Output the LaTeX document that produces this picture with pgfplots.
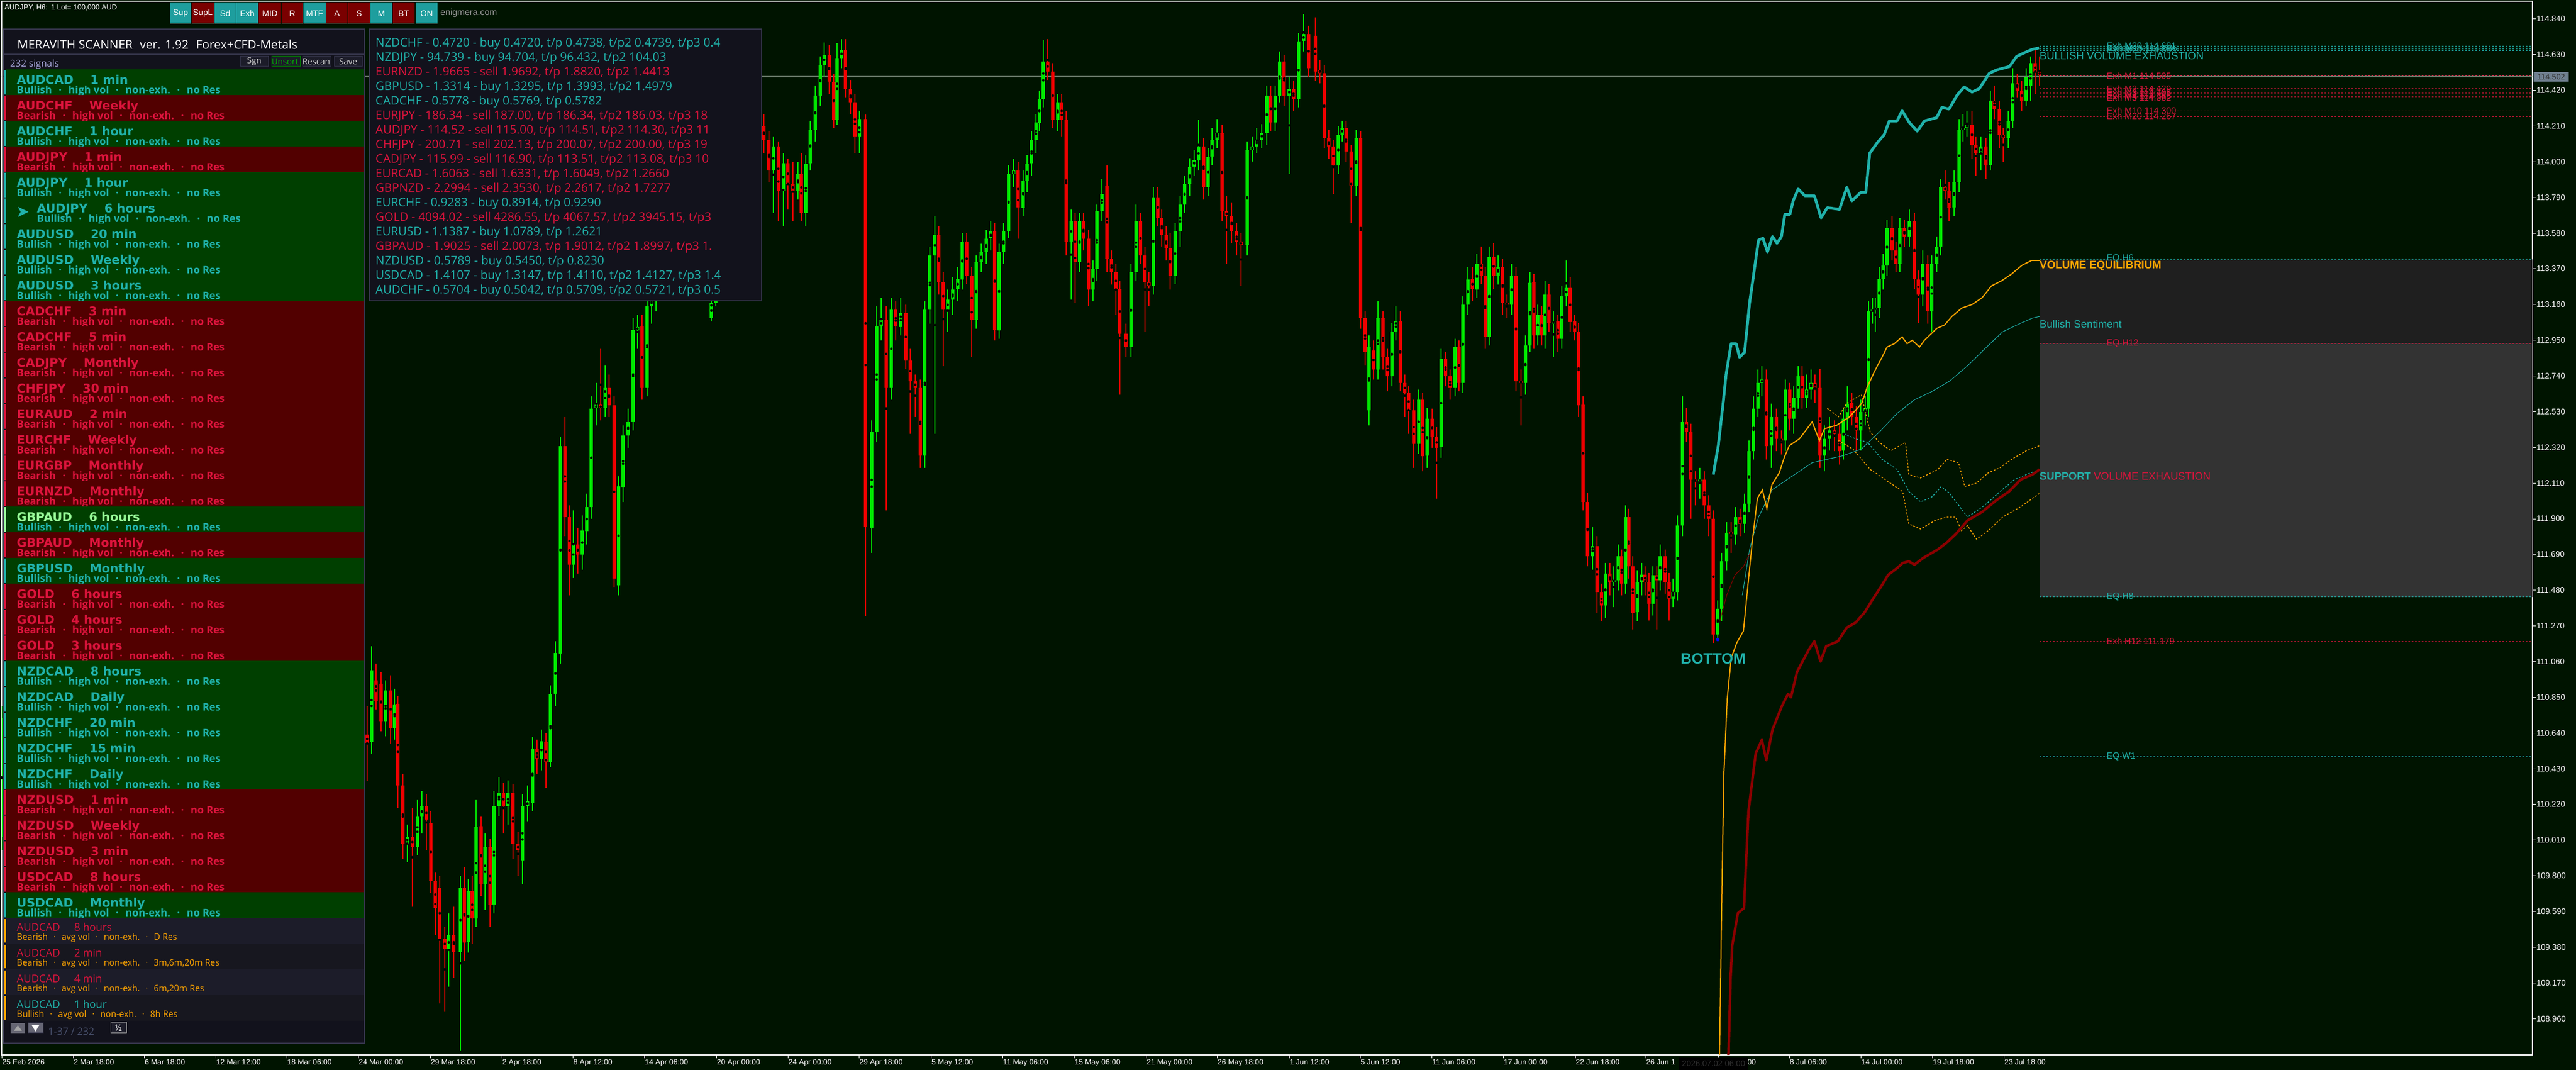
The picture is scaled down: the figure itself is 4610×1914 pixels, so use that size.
\documentclass[border=0pt]{standalone}
\usepackage{fontspec}
\setmainfont{Liberation Sans}
\newfontfamily\dejavu{DejaVu Sans}
\newfontfamily\osans{Open Sans}
\usepackage{pgfplots}
\usepackage{pgfplotstable}
\pgfplotsset{compat=1.18}
\definecolor{bg}{HTML}{001400}
\definecolor{cup}{HTML}{00E800}
\definecolor{cdn}{HTML}{F00000}
\definecolor{tealc}{HTML}{20B2AA}
\definecolor{crim}{HTML}{DC143C}
\definecolor{orng}{HTML}{FFA500}
\definecolor{dred}{HTML}{8B0000}
\definecolor{rectA}{HTML}{1F1F1F}
\definecolor{rectB}{HTML}{333333}
\definecolor{panel}{HTML}{12121C}
\definecolor{pborder}{HTML}{34344A}
\definecolor{rowg}{HTML}{003F00}
\definecolor{rowr}{HTML}{520000}
\definecolor{rowy}{HTML}{1C1C29}
\definecolor{rowz}{HTML}{17171F}
\definecolor{lgreen}{HTML}{98FB98}
\definecolor{btnT}{HTML}{1E9E9E}
\definecolor{btnR}{HTML}{7A0000}
\definecolor{pricebox}{HTML}{708090}
\definecolor{pline}{HTML}{8C9C8C}
\definecolor{navtxt}{HTML}{48506C}
\definecolor{boxtxt}{HTML}{303030}

\newcommand\rtitle{\dejavu\bfseries\fontsize{21.5}{24}\selectfont}
\newcommand\rsub{\osans\bfseries\fontsize{18.5}{20}\selectfont}
\newcommand\ytitle{\osans\fontsize{19}{21}\selectfont}
\newcommand\ysub{\osans\fontsize{15.7}{18}\selectfont}
\newcommand\ifont{\osans\fontsize{21.3}{24}\selectfont}
\newcommand\lfont{\fontsize{16}{18}\selectfont}
\newcommand\biglab{\fontsize{19}{21}\selectfont}
\newcommand\bfont{\fontsize{15}{17}\selectfont}
\newcommand\sepb{\hspace{12pt}·\hspace{12pt}}
\newcommand\seps{\hspace{10.4pt}·\hspace{10.4pt}}

% top, bg, bar, titlecol, subcol, sym, tf, sub
\newcommand\srow[8]{%
  \fill[#2] (11,#1) rectangle (651,{#1+46});
  \fill[#3] (7,{#1+1}) rectangle (11,{#1+45});
  \node[anchor=base west,inner sep=0pt,text=#4,font=\rtitle] at (30,{#1+26.7}) {#6\hspace{30pt}#7};
  \node[anchor=base west,inner sep=0pt,text=#5,font=\rsub] at (30,{#1+43.3}) {#8};
}
\newcommand\gRow[3]{\srow{#1}{rowg}{tealc}{tealc}{tealc}{#2}{#3}{Bullish\sepb high vol\sepb non-exh.\sepb no Res}}
\newcommand\rRow[3]{\srow{#1}{rowr}{crim}{crim}{crim}{#2}{#3}{Bearish\sepb high vol\sepb non-exh.\sepb no Res}}
% top, bg, titlecol, sym, tf, sub
\newcommand\yRow[6]{%
  \fill[#2] (11,#1) rectangle (651,{#1+46});
  \fill[orng] (7,{#1+2}) rectangle (11,{#1+44});
  \node[anchor=base west,inner sep=0pt,text=#3,font=\ytitle] at (30,{#1+24}) {#4\hspace{25pt}#5};
  \node[anchor=base west,inner sep=0pt,text=orng,font=\ysub] at (30,{#1+39.5}) {#6};
}
\newcommand\iline[3]{\node[anchor=base west,inner sep=0pt,text=#2,font=\ifont] at (672,{84+26*#1}) {#3};}
\newcommand\tbtn[4]{%
  \fill[#1] (#2,4) rectangle (#3,42);
  \draw[#1!60!white,line width=1.2pt] (#2,41.4) -- (#3,41.4);
  \node[text=white,font=\bfont] at ({(#2+#3)/2},24) {#4};
}

\pgfplotstableread{
x o h l c
3 110.03 110.80 109.95 110.73
657 110.63 110.80 110.36 110.58
665 110.59 111.15 110.52 111.01
673 110.95 111.05 110.78 110.83
682 110.93 111.00 110.65 110.71
690 110.71 110.95 110.62 110.89
699 110.89 110.98 110.58 110.67
706 110.67 110.90 110.60 110.81
712 110.81 110.86 110.20 110.33
721 110.33 110.40 109.90 109.99
729 109.99 110.10 109.88 110.03
738 110.03 110.20 109.62 109.97
747 109.97 110.25 109.92 110.15
755 110.15 110.30 110.05 110.21
763 110.21 110.28 109.95 110.13
771 110.11 110.18 109.70 109.77
779 109.77 109.82 109.45 109.61
787 109.73 109.80 109.05 109.43
796 109.43 109.50 109.00 109.37
803 109.37 109.58 109.15 109.45
812 109.45 109.62 109.20 109.35
824 109.35 109.80 108.77 109.73
831 109.73 109.85 109.30 109.41
838 109.41 109.78 109.35 109.71
845 109.71 109.80 109.40 109.55
852 109.55 110.25 109.50 110.09
861 110.09 110.15 109.68 109.75
868 109.75 110.05 109.60 109.97
877 109.97 110.02 109.50 109.63
884 109.63 110.30 109.58 110.21
893 110.21 110.38 110.15 110.29
901 110.29 110.35 110.05 110.21
909 110.21 110.36 110.10 110.29
918 110.29 110.34 109.90 109.99
927 109.99 110.06 109.80 109.95
935 109.89 110.28 109.75 110.21
944 110.21 110.33 110.12 110.24
953 110.23 110.62 110.18 110.55
961 110.55 110.60 110.40 110.49
969 110.49 110.66 110.42 110.59
977 110.59 110.64 110.32 110.47
985 110.47 110.92 110.44 110.87
994 110.87 111.18 110.80 111.11
1003 111.11 112.38 111.05 112.33
1011 112.33 112.50 111.80 111.91
1019 111.91 111.98 111.45 111.63
1026 111.63 111.95 111.55 111.75
1034 111.75 111.85 111.58 111.69
1042 111.69 111.92 111.60 111.83
1050 111.83 112.05 111.75 111.97
1058 111.97 112.62 111.90 112.55
1067 112.55 112.70 112.45 112.57
1075 112.57 112.90 112.48 112.55
1083 112.55 112.80 112.50 112.67
1090 112.67 112.75 112.50 112.57
1099 112.57 112.62 111.50 111.55
1107 111.51 112.15 111.45 112.09
1115 112.09 112.45 112.00 112.39
1124 112.39 112.55 112.32 112.47
1133 112.47 113.08 112.42 113.01
1141 113.01 113.10 112.90 113.03
1149 113.03 113.10 112.60 112.67
1158 112.67 113.22 112.62 113.15
1166 113.15 113.30 113.05 113.19
1174 113.19 113.45 113.12 113.40
1183 113.40 113.68 113.35 113.62
1191 113.62 113.70 113.45 113.50
1200 113.50 113.85 113.45 113.80
1208 113.80 114.00 113.75 113.95
1216 113.95 114.02 113.65 113.70
1225 113.70 113.75 113.40 113.45
1233 113.45 113.50 113.25 113.30
1241 113.30 113.48 113.25 113.42
1249 113.42 113.46 113.22 113.35
1257 113.35 113.40 113.20 113.25
1265 113.25 113.30 113.19 113.21
1273 113.08 113.25 113.06 113.17
1281 113.17 113.55 113.15 113.50
1290 113.50 113.80 113.45 113.75
1298 113.75 114.00 113.70 113.95
1306 113.95 114.02 113.80 113.85
1314 113.85 114.10 113.80 114.05
1323 114.05 114.25 114.00 114.20
1331 114.20 114.25 114.05 114.10
1339 114.10 114.30 114.05 114.25
1347 114.25 114.36 114.20 114.30
1356 114.30 114.35 114.15 114.22
1367 114.21 114.28 114.05 114.13
1376 114.13 114.18 113.88 113.95
1384 113.95 114.15 113.70 114.09
1393 114.09 114.12 113.65 113.83
1402 113.83 114.05 113.62 113.99
1410 113.99 114.02 113.72 113.87
1419 113.87 114.00 113.65 113.83
1428 113.83 114.00 113.78 113.93
1434 113.93 114.05 113.65 113.70
1442 113.70 114.04 113.62 113.99
1450 113.99 114.24 113.95 114.19
1459 114.19 114.45 114.12 114.39
1468 114.39 114.62 114.33 114.57
1475 114.57 114.70 114.50 114.63
1484 114.63 114.69 114.40 114.47
1492 114.47 114.52 114.20 114.25
1498 114.25 114.70 114.22 114.61
1506 114.61 114.72 114.55 114.66
1513 114.66 114.72 114.38 114.43
1522 114.43 114.48 114.28 114.35
1530 114.35 114.40 114.05 114.15
1538 114.15 114.30 114.05 114.25
1549 114.25 114.28 111.33 111.85
1560 111.85 112.48 111.70 112.41
1569 112.41 113.15 112.35 113.03
1577 113.03 113.20 112.95 113.07
1586 113.07 113.15 111.95 112.67
1595 112.67 113.20 112.60 113.13
1603 113.13 113.18 112.95 113.03
1612 113.03 113.20 112.98 113.11
1621 113.11 113.16 112.78 112.83
1629 112.83 112.90 112.40 112.71
1638 112.71 112.75 112.50 112.67
1647 112.67 112.72 112.20 112.27
1655 112.27 113.18 112.20 113.13
1664 113.13 113.50 113.05 113.45
1673 113.45 113.68 112.40 113.57
1680 113.57 113.62 113.22 113.29
1688 113.29 113.35 112.80 113.13
1696 113.13 113.25 113.00 113.19
1705 113.19 113.32 113.10 113.25
1714 113.25 113.38 113.18 113.31
1722 113.31 113.58 113.25 113.53
1730 113.53 113.58 113.28 113.33
1739 113.33 113.38 112.85 113.07
1747 113.07 113.45 113.02 113.41
1756 113.41 113.52 113.35 113.47
1765 113.47 113.60 113.40 113.55
1773 113.55 113.65 113.48 113.59
1780 113.59 113.64 112.95 113.01
1788 113.01 113.52 112.96 113.47
1796 113.47 113.64 113.40 113.59
1805 113.59 113.98 113.55 113.93
1814 113.93 114.02 113.85 113.95
1822 113.95 114.00 113.55 113.73
1831 113.73 113.95 113.68 113.89
1838 113.89 114.04 113.82 113.99
1846 113.99 114.18 113.92 114.13
1854 114.13 114.28 114.05 114.23
1860 114.23 114.42 114.18 114.37
1867 114.37 114.72 114.32 114.59
1875 114.59 114.72 114.48 114.53
1884 114.53 114.58 114.20 114.25
1893 114.25 114.40 114.18 114.35
1900 114.35 114.40 114.15 114.25
1908 114.25 114.30 113.45 113.53
1917 113.53 113.72 113.19 113.65
1924 113.65 113.70 113.17 113.41
1932 113.41 113.70 113.35 113.65
1939 113.65 113.70 113.48 113.55
1948 113.55 113.60 113.15 113.25
1956 113.25 113.42 113.18 113.37
1963 113.37 113.75 113.30 113.71
1972 113.71 113.90 113.65 113.81
1981 113.86 113.98 113.35 113.43
1989 113.43 113.48 113.28 113.35
1997 113.35 113.40 113.10 113.25
2004 113.25 113.30 112.63 112.99
2015 112.99 113.05 112.85 112.91
2024 112.91 113.40 112.85 113.35
2033 113.35 113.75 113.30 113.65
2041 113.65 113.70 113.40 113.45
2049 113.45 113.50 113.00 113.29
2056 113.29 113.35 113.15 113.27
2064 113.27 113.85 113.22 113.79
2072 113.79 113.85 113.62 113.67
2079 113.67 113.72 113.50 113.57
2087 113.57 113.62 113.42 113.49
2094 113.49 113.58 113.25 113.33
2103 113.33 113.64 113.28 113.59
2112 113.59 113.80 113.50 113.75
2120 113.75 113.92 113.70 113.87
2129 113.87 114.02 113.80 113.97
2137 113.97 114.07 113.92 114.01
2145 114.01 114.25 113.95 114.09
2154 114.09 114.14 113.78 113.85
2162 113.85 114.08 113.80 114.03
2169 114.03 114.20 113.98 114.13
2178 114.13 114.25 114.08 114.17
2187 114.17 114.22 113.65 113.71
2195 113.71 113.80 113.40 113.68
2204 113.68 113.76 113.52 113.59
2213 113.59 113.64 113.45 113.53
2221 113.53 113.58 113.27 113.51
2232 113.51 114.12 113.45 114.07
2241 114.07 114.15 114.00 114.09
2249 114.09 114.20 114.05 114.13
2258 114.13 114.22 114.08 114.17
2267 114.17 114.45 114.10 114.39
2274 114.39 114.45 114.18 114.23
2282 114.23 114.45 114.18 114.39
2290 114.39 114.65 114.35 114.59
2298 114.59 114.63 114.33 114.39
2307 114.39 114.50 113.93 114.43
2315 114.43 114.48 114.30 114.37
2324 114.37 114.76 114.32 114.71
2333 114.71 114.87 114.65 114.75
2342 114.75 114.80 114.50 114.55
2354 114.74 114.85 114.48 114.53
2362 114.54 114.60 114.46 114.52
2370 114.52 114.57 114.08 114.14
2378 114.14 114.19 114.02 114.09
2386 114.09 114.13 113.81 113.98
2395 113.98 114.21 113.93 114.16
2402 114.16 114.24 114.12 114.20
2409 114.20 114.24 114.00 114.06
2418 114.06 114.10 113.64 113.86
2427 113.86 114.19 113.80 114.14
2435 114.14 114.18 113.02 113.08
2443 113.08 113.12 112.80 112.88
2450 112.54 112.98 112.45 112.91
2458 112.89 112.95 112.72 112.78
2466 112.78 113.18 112.72 113.08
2475 113.08 113.12 112.78 112.85
2483 112.85 112.90 112.65 112.74
2491 112.74 113.05 112.68 113.00
2498 113.00 113.15 112.95 113.06
2506 113.06 113.12 112.65 112.70
2514 112.70 112.75 112.50 112.64
2521 112.64 112.68 112.40 112.54
2530 112.54 112.60 112.20 112.34
2539 112.34 112.66 112.28 112.60
2546 112.60 112.64 112.18 112.27
2554 112.27 112.55 112.20 112.49
2563 112.49 112.55 112.32 112.38
2571 112.38 112.44 112.02 112.32
2579 112.32 112.90 112.26 112.84
2587 112.84 112.88 112.68 112.74
2595 112.74 112.78 112.60 112.67
2604 112.67 112.96 112.62 112.91
2611 112.91 112.95 112.65 112.70
2618 112.70 113.21 112.64 113.16
2627 113.16 113.38 113.10 113.31
2635 113.31 113.38 113.18 113.25
2643 113.25 113.46 113.20 113.40
2651 113.40 113.50 113.28 113.33
2658 113.33 113.38 112.90 112.97
2665 112.97 113.50 112.92 113.44
2673 113.44 113.52 113.25 113.33
2681 113.33 113.45 113.28 113.38
2689 113.38 113.43 113.10 113.17
2697 113.17 113.22 113.08 113.16
2705 113.16 113.40 113.10 113.33
2713 113.33 113.38 112.65 112.71
2722 112.71 112.78 112.45 112.70
2730 112.70 112.98 112.63 112.92
2738 112.92 113.35 112.88 113.29
2745 113.29 113.34 112.90 112.98
2752 112.98 113.16 112.92 113.10
2759 113.10 113.15 112.92 112.98
2765 112.98 113.30 112.90 113.22
2772 113.22 113.28 113.00 113.05
2780 113.05 113.12 112.85 113.06
2788 113.06 113.10 112.88 112.96
2795 112.96 113.27 112.90 113.21
2803 113.21 113.42 113.15 113.26
2810 113.26 113.32 113.00 113.06
2818 113.06 113.10 112.95 113.00
2825 113.00 113.05 112.50 112.57
2833 112.57 112.62 111.95 112.00
2841 112.00 112.05 111.62 111.68
2850 111.68 111.85 111.60 111.74
2858 111.74 111.80 111.35 111.47
2866 111.47 111.52 111.30 111.39
2873 111.39 111.64 111.32 111.58
2881 111.58 111.64 111.45 111.53
2888 111.53 111.62 111.38 111.54
2896 111.54 111.75 111.48 111.68
2902 111.68 111.72 111.45 111.52
2909 111.52 111.98 111.46 111.91
2915 111.91 111.96 111.55 111.62
2922 111.62 111.68 111.25 111.35
2930 111.35 111.60 111.30 111.53
2938 111.53 111.64 111.45 111.57
2944 111.57 111.62 111.45 111.53
2951 111.53 111.58 111.30 111.40
2958 111.40 111.62 111.33 111.57
2965 111.57 111.62 111.25 111.54
2971 111.54 111.75 111.48 111.68
2980 111.68 111.72 111.46 111.53
2987 111.53 111.58 111.30 111.43
2994 111.43 111.55 111.38 111.47
3002 111.47 111.92 111.42 111.86
3011 111.86 112.62 111.80 112.47
3018 112.47 112.55 112.35 112.41
3026 112.41 112.46 111.90 112.13
3034 112.13 112.18 111.98 112.12
3042 112.12 112.20 112.02 112.13
3050 112.13 112.18 111.90 111.98
3058 111.98 112.04 111.80 111.90
3066 111.90 111.95 111.17 111.22
3074 111.22 111.42 111.19 111.37
3081 111.37 111.70 111.30 111.65
3090 111.65 111.88 111.60 111.82
3098 111.82 111.88 111.70 111.81
3106 111.81 111.97 111.75 111.91
3114 111.91 111.96 111.80 111.87
3122 111.87 112.05 111.82 111.99
3130 111.99 112.36 111.94 112.30
3138 112.30 112.62 112.25 112.55
3146 112.55 112.78 112.50 112.70
3153 112.70 112.80 112.62 112.72
3161 112.72 112.78 112.25 112.33
3170 112.33 112.58 112.20 112.50
3179 112.50 112.55 112.30 112.37
3188 112.37 112.42 112.28 112.36
3195 112.36 112.72 112.30 112.66
3203 112.66 112.70 112.42 112.49
3210 112.49 112.68 112.40 112.61
3218 112.61 112.80 112.55 112.74
3225 112.74 112.80 112.55 112.61
3233 112.61 112.75 112.55 112.66
3241 112.66 112.78 112.60 112.70
3248 112.70 112.75 112.58 112.67
3257 112.67 112.78 112.20 112.27
3265 112.27 112.45 112.18 112.37
3274 112.37 112.50 112.30 112.42
3283 112.42 112.48 112.30 112.40
3292 112.40 112.45 112.22 112.30
3299 112.30 112.55 112.25 112.49
3306 112.49 112.68 112.42 112.58
3314 112.58 112.64 112.45 112.50
3322 112.50 112.56 112.30 112.42
3330 112.42 112.60 112.30 112.53
3338 112.53 112.62 112.45 112.55
3344 112.55 113.18 112.50 113.12
3351 113.12 113.20 113.05 113.13
3356 113.13 113.20 113.00 113.14
3363 113.14 113.38 113.08 113.31
3370 113.31 113.46 113.25 113.39
3377 113.39 113.66 113.33 113.61
3386 113.61 113.68 113.42 113.48
3393 113.48 113.53 113.35 113.40
3400 113.40 113.67 113.35 113.61
3408 113.61 113.66 113.50 113.56
3417 113.56 113.72 113.50 113.65
3426 113.65 113.70 113.25 113.31
3433 113.31 113.36 113.05 113.22
3441 113.22 113.48 113.15 113.40
3450 113.40 113.45 113.05 113.12
3457 113.12 113.45 113.00 113.40
3466 113.40 113.56 113.35 113.50
3473 113.50 113.90 113.45 113.85
3481 113.85 113.95 113.78 113.83
3488 113.83 113.88 113.65 113.73
3497 113.73 113.95 113.68 113.88
3506 113.88 114.25 113.82 114.19
3513 114.19 114.28 114.12 114.20
3520 114.20 114.30 114.15 114.22
3529 114.22 114.30 114.02 114.10
3536 114.10 114.15 113.92 114.05
3545 114.05 114.15 113.95 114.09
3554 114.09 114.14 113.90 113.98
3562 113.98 114.42 113.95 114.36
3569 114.36 114.45 114.25 114.31
3578 114.31 114.36 114.08 114.16
3585 114.16 114.20 114.00 114.14
3594 114.14 114.30 114.08 114.24
3602 114.24 114.55 114.20 114.46
3610 114.46 114.52 114.38 114.42
3618 114.42 114.48 114.30 114.36
3626 114.36 114.55 114.33 114.50
3634 114.45 114.62 114.36 114.58
3642 114.58 114.66 114.40 114.53
3650 114.53 114.62 114.45 114.51
}\candles

\pgfplotsset{
  lvl/.style={forget plot, line width=1.2pt, dash pattern=on 3pt off 3pt},
  dott/.style={forget plot, line width=1.4pt, dash pattern=on 3pt off 3pt},
}

\begin{document}
\begin{tikzpicture}
\fill[bg] (0,0) rectangle (4610pt,1914pt);
\path[use as bounding box] (0,0) rectangle (4610pt,1914pt);
\begin{axis}[
  at={(3pt,27pt)}, anchor=south west, scale only axis,
  width=4529pt, height=1885pt,
  xmin=3, xmax=4532, ymin=108.7466, ymax=114.945,
  enlargelimits=false,
  axis line style={white, line width=1.2pt},
  tick align=outside, major tick length=6pt,
  tick style={white, line width=1pt},
  xtick pos=bottom, ytick pos=right, yticklabel pos=right,
  xtick={3,131,258,386,513,641,770,898,1025,1153,1282,1410,1537,1666,1794,1922,2051,2178,2307,2434,2562,2690,2819,2945,3075,3202,3330,3458,3586},
  xticklabels={25 Feb 2026,2 Mar 18:00,6 Mar 18:00,12 Mar 12:00,18 Mar 06:00,24 Mar 00:00,29 Mar 18:00,2 Apr 18:00,8 Apr 12:00,14 Apr 06:00,20 Apr 00:00,24 Apr 00:00,29 Apr 18:00,5 May 12:00,11 May 06:00,15 May 06:00,21 May 00:00,26 May 18:00,1 Jun 12:00,5 Jun 12:00,11 Jun 06:00,17 Jun 00:00,22 Jun 18:00,26 Jun 1,\phantom{2 Jul 00:}00,8 Jul 06:00,14 Jul 00:00,19 Jul 18:00,23 Jul 18:00},
  ytick={108.96,109.17,109.38,109.59,109.80,110.01,110.22,110.43,110.64,110.85,111.06,111.27,111.48,111.69,111.90,112.11,112.32,112.53,112.74,112.95,113.16,113.37,113.58,113.79,114.00,114.21,114.42,114.63,114.84},
  yticklabels={108.960,109.170,109.380,109.590,109.800,110.010,110.220,110.430,110.640,110.850,111.060,111.270,111.480,111.690,111.900,112.110,112.320,112.530,112.740,112.950,113.160,113.370,113.580,113.790,114.000,114.210,114.420,114.630,114.840},
  xticklabel style={anchor=north west, inner sep=0pt, text=white, font=\fontsize{13.5}{15}\selectfont, xshift=1pt, yshift=-2pt},
  yticklabel style={anchor=west, inner sep=0pt, text=white, font=\fontsize{14.5}{16}\selectfont, xshift=1pt},
]
% zones
\addplot[draw=none, fill=rectA, forget plot] coordinates {(3650,113.425) (4532,113.425) (4532,112.932) (3650,112.932)} -- cycle;
\addplot[draw=none, fill=rectB, forget plot] coordinates {(3650,112.932) (4532,112.932) (4532,111.44) (3650,111.44)} -- cycle;
% current price line
\addplot[pline, line width=1.2pt, forget plot] coordinates {(3,114.502) (4532,114.502)};
% levels
\addplot[lvl, tealc] coordinates {(3650,114.681) (4532,114.681)};
\addplot[lvl, tealc] coordinates {(3650,114.665) (4532,114.665)};
\addplot[lvl, tealc] coordinates {(3650,114.655) (4532,114.655)};
\addplot[lvl, crim] coordinates {(3650,114.505) (4532,114.505)};
\addplot[lvl, crim] coordinates {(3650,114.429) (4532,114.429)};
\addplot[lvl, crim] coordinates {(3650,114.405) (4532,114.405)};
\addplot[lvl, crim] coordinates {(3650,114.385) (4532,114.385)};
\addplot[lvl, crim] coordinates {(3650,114.377) (4532,114.377)};
\addplot[lvl, crim] coordinates {(3650,114.300) (4532,114.300)};
\addplot[lvl, crim] coordinates {(3650,114.267) (4532,114.267)};
\addplot[lvl, tealc] coordinates {(3650,113.425) (4532,113.425)};
\addplot[lvl, crim] coordinates {(3650,112.932) (4532,112.932)};
\addplot[lvl, tealc] coordinates {(3650,111.44) (4532,111.44)};
\addplot[lvl, crim] coordinates {(3650,111.179) (4532,111.179)};
\addplot[lvl, tealc] coordinates {(3650,110.50) (4532,110.50)};
% candles: wicks
\addplot[only marks, mark=none, forget plot,
  restrict expr to domain={\thisrow{c}-\thisrow{o}}{0:50},
  error bars/y dir=both, error bars/y explicit, error bars/error mark=none,
  error bars/error bar style={cup, line width=1.2pt, solid}]
  table[x=x, y expr={(\thisrow{h}+\thisrow{l})/2}, y error expr={(\thisrow{h}-\thisrow{l})/2}] {\candles};
\addplot[only marks, mark=none, forget plot,
  restrict expr to domain={\thisrow{c}-\thisrow{o}}{-50:-0.0001},
  error bars/y dir=both, error bars/y explicit, error bars/error mark=none,
  error bars/error bar style={cdn, line width=1.2pt, solid}]
  table[x=x, y expr={(\thisrow{h}+\thisrow{l})/2}, y error expr={(\thisrow{h}-\thisrow{l})/2}] {\candles};
% candles: bodies
\addplot[only marks, mark=none, forget plot,
  restrict expr to domain={\thisrow{c}-\thisrow{o}}{0:50},
  error bars/y dir=both, error bars/y explicit, error bars/error mark=none,
  error bars/error bar style={cup, line width=5.5pt, solid}]
  table[x=x, y expr={(\thisrow{o}+\thisrow{c})/2}, y error expr={max(abs(\thisrow{c}-\thisrow{o})/2,0.004)}] {\candles};
\addplot[only marks, mark=none, forget plot,
  restrict expr to domain={\thisrow{c}-\thisrow{o}}{-50:-0.0001},
  error bars/y dir=both, error bars/y explicit, error bars/error mark=none,
  error bars/error bar style={cdn, line width=5.5pt, solid}]
  table[x=x, y expr={(\thisrow{o}+\thisrow{c})/2}, y error expr={max(abs(\thisrow{c}-\thisrow{o})/2,0.004)}] {\candles};
% dotted lines
\addplot[dott, orng] coordinates {(3270,112.55) (3290,112.50) (3305,112.58) (3331,112.63) (3347,112.41) (3363,112.35) (3384,112.30) (3410,112.35) (3416,112.16) (3437,112.14) (3468,112.19) (3484,112.25) (3505,112.23) (3516,112.09) (3537,112.11) (3558,112.17) (3579,112.20) (3600,112.25) (3626,112.30) (3650,112.33)};
\addplot[dott, tealc] coordinates {(3300,112.40) (3321,112.37) (3342,112.35) (3368,112.25) (3395,112.19) (3416,112.06) (3437,112.00) (3458,112.03) (3474,112.09) (3489,112.05) (3505,111.98) (3521,111.91) (3552,111.98) (3579,112.06) (3605,112.13) (3626,112.16) (3650,112.19)};
\addplot[dott, orng] coordinates {(3290,112.36) (3316,112.31) (3347,112.19) (3374,112.13) (3405,112.06) (3416,111.87) (3437,111.84) (3463,111.89) (3484,111.91) (3500,111.91) (3510,111.83) (3521,111.86) (3537,111.78) (3558,111.83) (3584,111.91) (3616,111.97) (3650,112.05)};
% bullish sentiment
\addplot[tealc, line width=1pt, forget plot] coordinates {(3118,111.45) (3131,111.72) (3147,111.91) (3171,112.07) (3207,112.15) (3243,112.23) (3297,112.27) (3331,112.31) (3363,112.41) (3395,112.52) (3426,112.60) (3458,112.65) (3489,112.71) (3521,112.80) (3552,112.90) (3584,113.00) (3616,113.05) (3637,113.08) (3650,113.09)};
% thin dark red
\addplot[dred, line width=1pt, forget plot] coordinates {(3078,111.30) (3090,111.45) (3105,111.57) (3120,111.62) (3132,111.70)};
% volume equilibrium
\addplot[orng, line width=2pt, forget plot] coordinates {(3077,108.70) (3081,109.60) (3085,110.40) (3091,110.84) (3098,111.08) (3108,111.17) (3120,111.24) (3129,111.54) (3136,111.77) (3145,112.02) (3154,112.07) (3162,111.96) (3171,112.10) (3184,112.17) (3193,112.26) (3202,112.33) (3220,112.37) (3234,112.43) (3243,112.47) (3256,112.36) (3265,112.43) (3287,112.45) (3310,112.50) (3332,112.58) (3341,112.67) (3355,112.77) (3368,112.85) (3377,112.91) (3390,112.93) (3404,112.97) (3413,112.93) (3422,112.95) (3435,112.91) (3444,112.95) (3466,113.02) (3480,113.04) (3493,113.09) (3511,113.14) (3529,113.16) (3547,113.20) (3564,113.27) (3582,113.30) (3600,113.34) (3618,113.39) (3636,113.42) (3650,113.42)};
% support
\addplot[dred, line width=4.5pt, forget plot, line join=round] coordinates {(3093,108.70) (3097,109.20) (3100,109.39) (3110,109.58) (3121,109.61) (3129,110.18) (3142,110.52) (3153,110.60) (3161,110.48) (3172,110.66) (3189,110.80) (3200,110.87) (3205,110.85) (3216,111.00) (3237,111.13) (3247,111.18) (3258,111.06) (3268,111.15) (3289,111.18) (3305,111.26) (3321,111.29) (3337,111.35) (3352,111.43) (3368,111.51) (3379,111.57) (3395,111.61) (3405,111.64) (3416,111.65) (3426,111.63) (3442,111.67) (3468,111.72) (3484,111.76) (3500,111.81) (3521,111.89) (3547,111.94) (3573,112.01) (3595,112.06) (3616,112.13) (3637,112.16) (3650,112.19)};
% bullish volume exhaustion
\addplot[tealc, line width=5pt, forget plot, line join=round] coordinates {(3066,112.16) (3075,112.33) (3084,112.59) (3089,112.75) (3098,112.93) (3107,112.93) (3113,112.85) (3122,112.88) (3131,113.17) (3138,113.33) (3147,113.54) (3155,113.55) (3163,113.47) (3172,113.56) (3180,113.52) (3188,113.56) (3194,113.69) (3203,113.69) (3209,113.77) (3218,113.84) (3230,113.80) (3247,113.80) (3259,113.67) (3270,113.73) (3292,113.72) (3305,113.85) (3314,113.77) (3330,113.82) (3339,113.82) (3346,114.05) (3359,114.11) (3372,114.16) (3381,114.24) (3395,114.24) (3404,114.30) (3417,114.23) (3431,114.18) (3444,114.24) (3466,114.26) (3475,114.32) (3488,114.31) (3502,114.39) (3515,114.44) (3529,114.41) (3542,114.43) (3560,114.52) (3573,114.54) (3596,114.56) (3609,114.62) (3622,114.64) (3636,114.66) (3649,114.67)};
% bottom marker
\addplot[only marks, mark=*, mark size=3pt, blue, forget plot] coordinates {(3074,111.19)};
% labels
\node[anchor=west, inner sep=0pt, text=tealc, font=\biglab] at (axis cs:3650,114.622) {BULLISH VOLUME EXHAUSTION};
\node[anchor=west, inner sep=0pt, text=orng, font=\fontsize{19.5}{21}\selectfont\bfseries] at (axis cs:3650,113.388) {VOLUME EQUILIBRIUM};
\node[anchor=west, inner sep=0pt, text=tealc, font=\biglab] at (axis cs:3650,113.044) {Bullish Sentiment};
\node[anchor=west, inner sep=0pt, text=crim, font=\biglab] at (axis cs:3650,112.151) {SUPPORT VOLUME EXHAUSTION};
\node[anchor=west, inner sep=0pt, text=tealc, font=\biglab\bfseries] at (axis cs:3650,112.151) {SUPPORT};
\node[inner sep=0pt, text=tealc, font=\fontsize{27}{29}\selectfont\bfseries] at (axis cs:3066,111.078) {BOTTOM};
\node[anchor=west, inner sep=0pt, text=tealc, font=\lfont] at (axis cs:3770,114.681) {Exh M30 114.681};
\node[anchor=west, inner sep=0pt, text=tealc, font=\lfont] at (axis cs:3772,114.668) {Exh M15 114.665};
\node[anchor=west, inner sep=0pt, text=tealc, font=\lfont] at (axis cs:3770,114.658) {Exh M20 114.655};
\node[anchor=west, inner sep=0pt, text=crim, font=\lfont] at (axis cs:3770,114.505) {Exh M1 114.505};
\node[anchor=west, inner sep=0pt, text=crim, font=\lfont] at (axis cs:3770,114.429) {Exh M2 114.429};
\node[anchor=west, inner sep=0pt, text=crim, font=\lfont] at (axis cs:3770,114.405) {Exh M3 114.405};
\node[anchor=west, inner sep=0pt, text=crim, font=\lfont] at (axis cs:3770,114.385) {Exh M4 114.385};
\node[anchor=west, inner sep=0pt, text=crim, font=\lfont] at (axis cs:3770,114.377) {Exh M5 114.382};
\node[anchor=west, inner sep=0pt, text=crim, font=\lfont] at (axis cs:3770,114.300) {Exh M10 114.300};
\node[anchor=west, inner sep=0pt, text=crim, font=\lfont] at (axis cs:3770,114.267) {Exh M20 114.267};
\node[anchor=west, inner sep=0pt, text=tealc, font=\lfont] at (axis cs:3770,113.430) {EQ H6};
\node[anchor=west, inner sep=0pt, text=crim, font=\lfont] at (axis cs:3770,112.932) {EQ H12};
\node[anchor=west, inner sep=0pt, text=tealc, font=\lfont] at (axis cs:3770,111.44) {EQ H8};
\node[anchor=west, inner sep=0pt, text=crim, font=\lfont] at (axis cs:3770,111.179) {Exh H12 111.179};
\node[anchor=west, inner sep=0pt, text=tealc, font=\lfont] at (axis cs:3770,110.50) {EQ W1};
\end{axis}

\begin{scope}[shift={(0pt,1914pt)}, x=1pt, y=-1pt]
% price box on the right
\fill[pricebox] (4534,129) rectangle (4597,146);
\node[text=black!80, font=\fontsize{14}{16}\selectfont, inner sep=0pt] at (4565.5,137.5) {114.502};
% crosshair date box
\fill[black] (3005,1892) rectangle (3128,1914);
\node[anchor=west, inner sep=0pt, text=boxtxt, font=\fontsize{14.5}{16}\selectfont] at (3010,1903) {2026.07.02 06:00};
% toolbar
\node[anchor=west, inner sep=0pt, text=white, font=\fontsize{13}{15}\selectfont] at (8,14) {AUDJPY, H6:\hspace{6pt}1 Lot= 100,000 AUD};
\tbtn{btnT}{304}{342}{Sup}
\tbtn{btnR}{343}{383}{SupL}
\tbtn{btnT}{384}{422}{Sd}
\tbtn{btnT}{423}{462}{Exh}
\tbtn{btnR}{463}{503}{MID}
\tbtn{btnR}{504}{542}{R}
\tbtn{btnT}{543}{583}{MTF}
\tbtn{btnR}{584}{622}{A}
\tbtn{btnR}{623}{662}{S}
\tbtn{btnT}{663}{702}{M}
\tbtn{btnR}{703}{742}{BT}
\tbtn{btnT}{744}{783}{ON}
\node[anchor=west, inner sep=0pt, text=gray!80, font=\fontsize{16}{18}\selectfont] at (788,23) {enigmera.com};
% info box
\fill[panel] (661,52) rectangle (1363,538);
\draw[pborder, line width=1.5pt] (661,52) rectangle (1363,538);
\iline{0}{tealc}{NZDCHF - 0.4720 - buy 0.4720, t/p 0.4738, t/p2 0.4739, t/p3 0.4}
\iline{1}{tealc}{NZDJPY - 94.739 - buy 94.704, t/p 96.432, t/p2 104.03}
\iline{2}{crim}{EURNZD - 1.9665 - sell 1.9692, t/p 1.8820, t/p2 1.4413}
\iline{3}{tealc}{GBPUSD - 1.3314 - buy 1.3295, t/p 1.3993, t/p2 1.4979}
\iline{4}{tealc}{CADCHF - 0.5778 - buy 0.5769, t/p 0.5782}
\iline{5}{crim}{EURJPY - 186.34 - sell 187.00, t/p 186.34, t/p2 186.03, t/p3 18}
\iline{6}{crim}{AUDJPY - 114.52 - sell 115.00, t/p 114.51, t/p2 114.30, t/p3 11}
\iline{7}{crim}{CHFJPY - 200.71 - sell 202.13, t/p 200.07, t/p2 200.00, t/p3 19}
\iline{8}{crim}{CADJPY - 115.99 - sell 116.90, t/p 113.51, t/p2 113.08, t/p3 10}
\iline{9}{crim}{EURCAD - 1.6063 - sell 1.6331, t/p 1.6049, t/p2 1.2660}
\iline{10}{crim}{GBPNZD - 2.2994 - sell 2.3530, t/p 2.2617, t/p2 1.7277}
\iline{11}{tealc}{EURCHF - 0.9283 - buy 0.8914, t/p 0.9290}
\iline{12}{crim}{GOLD - 4094.02 - sell 4286.55, t/p 4067.57, t/p2 3945.15, t/p3}
\iline{13}{tealc}{EURUSD - 1.1387 - buy 1.0789, t/p 1.2621}
\iline{14}{crim}{GBPAUD - 1.9025 - sell 2.0073, t/p 1.9012, t/p2 1.8997, t/p3 1.}
\iline{15}{tealc}{NZDUSD - 0.5789 - buy 0.5450, t/p 0.8230}
\iline{16}{tealc}{USDCAD - 1.4107 - buy 1.3147, t/p 1.4110, t/p2 1.4127, t/p3 1.4}
\iline{17}{tealc}{AUDCHF - 0.5704 - buy 0.5042, t/p 0.5709, t/p2 0.5721, t/p3 0.5}
% scanner panel
\fill[panel] (6,52) rectangle (652,1866);
\draw[pborder, line width=1.5pt] (6,52) rectangle (652,1866);
\draw[pborder, line width=1.2pt] (6,97) -- (652,97);
\node[anchor=base west, inner sep=0pt, text=white, font=\osans\fontsize{21.5}{24}\selectfont] at (31,88) {MERAVITH SCANNER\hspace{13pt}ver. 1.92\hspace{13pt}Forex+CFD-Metals};
\node[anchor=base west, inner sep=0pt, text=gray!60!blue!50!white, font=\osans\fontsize{17}{19}\selectfont] at (18,120) {232 signals};
\fill[rowy] (430,101) rectangle (480,119); \draw[pborder,line width=1pt] (430,101) rectangle (480,119);
\node[text=gray!30!white, font=\osans\fontsize{15}{17}\selectfont, inner sep=0pt] at (455,110) {Sgn};
\fill[rowy] (486,101) rectangle (537,119); \draw[green!50!black,line width=1pt] (486,101) rectangle (537,119);
\begin{scope}\clip (487,101) rectangle (536,119);
\node[text=green!70!black, font=\osans\fontsize{15}{17}\selectfont, inner sep=0pt] at (510,110) {Unsort};
\end{scope}
\fill[rowy] (541,101) rectangle (592,119); \draw[pborder,line width=1pt] (541,101) rectangle (592,119);
\begin{scope}\clip (542,101) rectangle (591,119);
\node[text=gray!30!white, font=\osans\fontsize{15}{17}\selectfont, inner sep=0pt] at (566,110) {Rescan};
\end{scope}
\fill[rowy] (598,101) rectangle (648,119); \draw[pborder,line width=1pt] (598,101) rectangle (648,119);
\node[text=gray!30!white, font=\osans\fontsize{15}{17}\selectfont, inner sep=0pt] at (623,110) {Save};
% rows
\gRow{124}{AUDCAD}{1 min}
\rRow{170}{AUDCHF}{Weekly}
\gRow{216}{AUDCHF}{1 hour}
\rRow{262}{AUDJPY}{1 min}
\gRow{308}{AUDJPY}{1 hour}
\fill[rowg] (11,354) rectangle (651,400);
\fill[tealc] (7,355) rectangle (11,399);
\fill[tealc] (32,370) -- (51,379) -- (32,388) -- (37,379) -- cycle;
\node[anchor=base west,inner sep=0pt,text=tealc,font=\rtitle] at (66,380.7) {AUDJPY\hspace{30pt}6 hours};
\node[anchor=base west,inner sep=0pt,text=tealc,font=\rsub] at (66,397.3) {Bullish\sepb high vol\sepb non-exh.\sepb no Res};
\gRow{400}{AUDUSD}{20 min}
\gRow{446}{AUDUSD}{Weekly}
\gRow{492}{AUDUSD}{3 hours}
\rRow{538}{CADCHF}{3 min}
\rRow{584}{CADCHF}{5 min}
\rRow{630}{CADJPY}{Monthly}
\rRow{676}{CHFJPY}{30 min}
\rRow{722}{EURAUD}{2 min}
\rRow{768}{EURCHF}{Weekly}
\rRow{814}{EURGBP}{Monthly}
\rRow{860}{EURNZD}{Monthly}
\srow{906}{rowg}{lgreen}{lgreen}{tealc}{GBPAUD}{6 hours}{Bullish\sepb high vol\sepb non-exh.\sepb no Res}
\rRow{952}{GBPAUD}{Monthly}
\gRow{998}{GBPUSD}{Monthly}
\rRow{1044}{GOLD}{6 hours}
\rRow{1090}{GOLD}{4 hours}
\rRow{1136}{GOLD}{3 hours}
\gRow{1182}{NZDCAD}{8 hours}
\gRow{1228}{NZDCAD}{Daily}
\gRow{1274}{NZDCHF}{20 min}
\gRow{1320}{NZDCHF}{15 min}
\gRow{1366}{NZDCHF}{Daily}
\rRow{1412}{NZDUSD}{1 min}
\rRow{1458}{NZDUSD}{Weekly}
\rRow{1504}{NZDUSD}{3 min}
\rRow{1550}{USDCAD}{8 hours}
\gRow{1596}{USDCAD}{Monthly}
\yRow{1642}{rowy}{crim}{AUDCAD}{8 hours}{Bearish\seps avg vol\seps non-exh.\seps D Res}
\yRow{1688}{rowz}{crim}{AUDCAD}{2 min}{Bearish\seps avg vol\seps non-exh.\seps 3m,6m,20m Res}
\yRow{1734}{rowy}{crim}{AUDCAD}{4 min}{Bearish\seps avg vol\seps non-exh.\seps 6m,20m Res}
\yRow{1780}{rowz}{tealc}{AUDCAD}{1 hour}{Bullish\seps avg vol\seps non-exh.\seps 8h Res}
\fill[panel] (7,1826) rectangle (651,1865);
% nav
\fill[black!75!blue!20!gray] (19,1830) rectangle (45,1848);
\fill[gray!70] (25,1844) -- (39,1844) -- (32,1834) -- cycle;
\fill[black!70!blue!20!gray] (50,1830) rectangle (77,1848);
\draw[pborder, line width=1pt] (50,1830) rectangle (77,1848);
\fill[white] (57,1834) -- (70,1834) -- (63.5,1845) -- cycle;
\node[anchor=base west, inner sep=0pt, text=navtxt, font=\osans\fontsize{17.8}{20}\selectfont] at (86,1852) {1-37 / 232};
\fill[rowy] (198,1829) rectangle (226,1848);
\draw[gray!70, line width=1pt] (198,1829) rectangle (226,1848);
\node[text=white, font=\osans\fontsize{16}{18}\selectfont, inner sep=0pt] at (212,1839) {½};
\end{scope}
\end{tikzpicture}
\end{document}
